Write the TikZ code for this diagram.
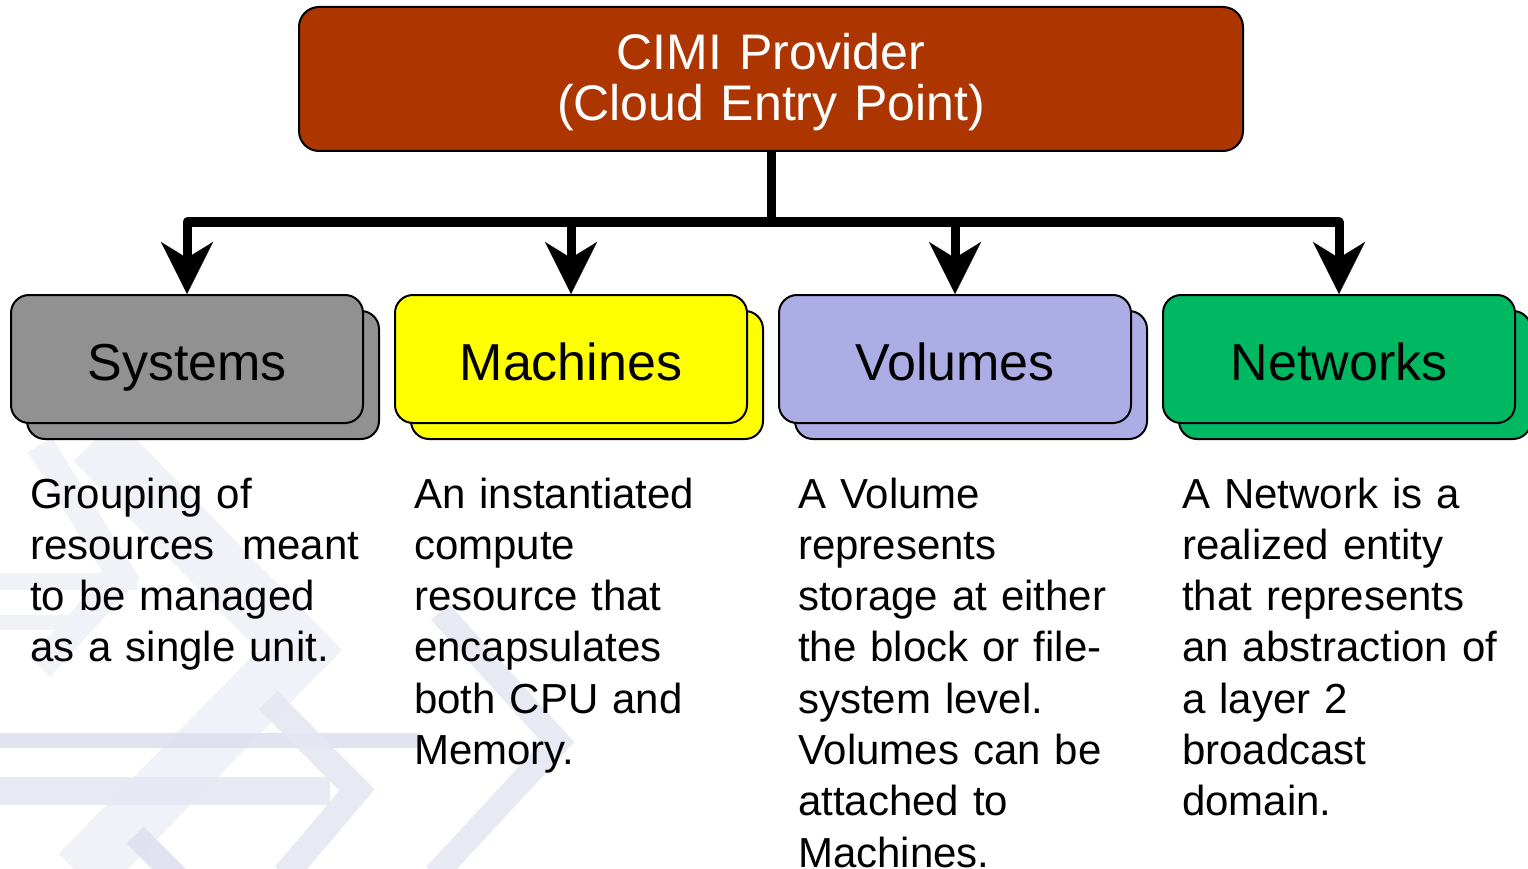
\documentclass[tikz,border=0pt]{standalone}
\usepackage{fontspec}
\setmainfont{Liberation Sans}
\usetikzlibrary{arrows.meta}
\definecolor{rust}{HTML}{AD3500}
\definecolor{sysgray}{HTML}{919191}
\definecolor{machyellow}{HTML}{FFFF00}
\definecolor{vollav}{HTML}{ADADE6}
\definecolor{netgreen}{HTML}{00B862}
\definecolor{wmdark}{HTML}{DCDFEE}
\definecolor{wmmid}{HTML}{E5E7F2}
\definecolor{wmlight}{HTML}{F1F2F7}
\tikzset{
  wm/.style={line cap=butt, line join=miter},
  topbox/.style={draw=black, line width=2pt, fill=rust, rounded corners=20pt,
    minimum width=944pt, minimum height=144pt, inner sep=0pt, text=white,
    text width=900pt, align=center, font=\fontsize{50}{51.5}\selectfont,
    text height=40pt, text depth=59.4pt},
  catbox/.style={draw=black, line width=2pt, rounded corners=18pt,
    minimum width=352pt, minimum height=128pt, inner sep=0pt,
    font=\fontsize{52}{60}\selectfont, text height=42pt, text depth=0pt},
  desc/.style={anchor=base west, inner sep=0pt, text width=380pt, align=left,
    font=\fontsize{42}{51.3}\selectfont},
  conn/.style={line width=9pt, line join=round,
    -{Stealth[length=52pt, width=52pt, inset=16pt, line width=0.1pt]}}
}
\begin{document}
\begin{tikzpicture}[x=1pt,y=-1pt]
\useasboundingbox (0,0) rectangle (1528,869);
\fill[white] (0,0) rectangle (1528,869);
% watermark
\draw[wm, wmlight, line width=60pt] (95,440) -- (300,650) -- (80,875);
\draw[wm, wmlight, line width=28pt] (40,445) -- (122,577) -- (40,667);
\fill[wmlight] (0,573) rectangle (137,590);
\fill[wmlight] (0,615) rectangle (80,630);
\draw[wm, wmmid, line width=28pt, opacity=0.85] (0,791) -- (330,791);
\draw[wm, wmdark, line width=15pt, opacity=0.85] (0,740) -- (420,740);
\draw[wm, wmmid, line width=26pt, opacity=0.85] (268,700) -- (357,790) -- (285,875);
\draw[wm, wmmid, line width=24pt, opacity=0.85] (440,612) -- (558,742) -- (435,875);
\draw[wm, wmdark, line width=24pt, opacity=0.85] (135,835) -- (180,880);
% top box
\node[topbox] (top) at (771,79) {CIMI Provider\\(Cloud Entry Point)};
\coordinate (bus) at (771,222);
% category boxes
\foreach \nm/\cx/\col/\lab in {sys/187/sysgray/Systems, mach/571/machyellow/Machines, vol/955/vollav/Volumes, net/1339/netgreen/Networks}{
  \node[catbox, fill=\col] (\nm back) at ({\cx+16},375) {};
  \node[catbox, fill=\col] (\nm) at (\cx,359) {\lab};
}
% connectors
\foreach \nm in {sys, mach, vol, net}{
  \draw[conn] (top.south) -- (bus) -| (\nm.north);
}
% descriptions
\node[desc] (dsys) at (30,508) {Grouping of\\resources\ \ meant\\to be managed\\as a single unit.};
\node[desc] (dmach) at (414,508) {An instantiated\\compute\\resource that\\encapsulates\\both CPU and\\Memory.};
\node[desc] (dvol) at (798,508) {A Volume\\represents\\storage at either\\the block or file-\\system level.\\Volumes can be\\attached to\\Machines.};
\node[desc] (dnet) at (1182,508) {A Network is a\\realized entity\\that represents\\an abstraction of\\a layer 2\\broadcast\\domain.};
\end{tikzpicture}
\end{document}
